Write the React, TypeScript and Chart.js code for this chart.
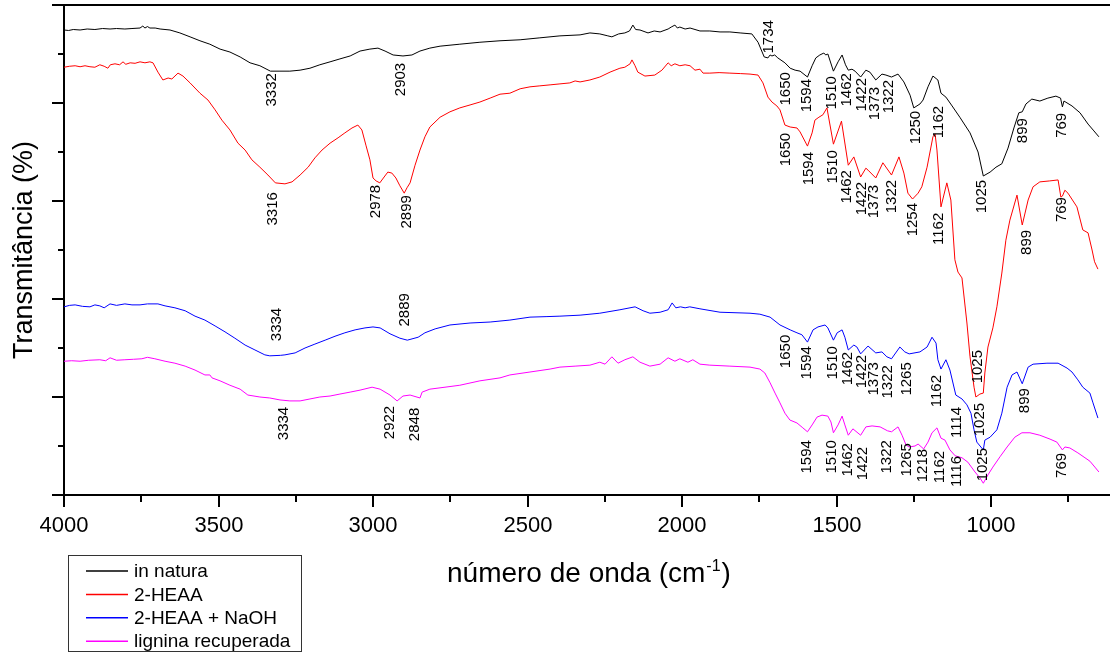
import React, { useEffect, useRef } from 'react';
import { Chart, registerables } from 'chart.js';

Chart.register(...registerables);

const FONT = "'Liberation Sans', Arial, Helvetica, sans-serif";

// Series names and colours
const seriesNames = ['in natura', '2-HEAA', '2-HEAA + NaOH', 'lignina recuperada'];
const seriesColors = ['#000000', '#ff0000', '#0000ff', '#ff00ff'];

// FTIR spectra: [wavenumber (cm-1), transmittance (offset, a.u.)]
const inNatura: [number, number][] = [
  [4000, 94.9], [3985, 94.8], [3970, 95.0], [3948, 94.9], [3925, 95.1], [3900, 95.0], [3875, 95.2],
  [3851, 95.1], [3830, 95.2], [3803, 95.1], [3780, 95.2], [3754, 95.3], [3745, 95.7], [3738, 95.3],
  [3730, 95.6], [3722, 95.3], [3705, 95.3], [3689, 95.1], [3657, 94.9], [3625, 94.3], [3592, 93.5],
  [3560, 92.7], [3528, 92.0], [3495, 91.0], [3463, 90.4], [3430, 89.4], [3398, 88.2], [3366, 87.6],
  [3332, 86.5], [3301, 86.5], [3269, 86.5], [3236, 86.7], [3204, 87.1], [3172, 87.8], [3139, 88.4],
  [3107, 89.0], [3074, 89.6], [3042, 90.6], [3010, 91.0], [2984, 91.2], [2961, 90.6], [2935, 89.8],
  [2903, 89.6], [2874, 89.8], [2848, 90.6], [2816, 91.2], [2783, 91.6], [2719, 92.0], [2654, 92.4],
  [2589, 92.7], [2524, 92.9], [2460, 93.3], [2395, 93.7], [2330, 93.9], [2298, 94.3], [2266, 94.1],
  [2240, 93.7], [2227, 93.5], [2205, 94.1], [2185, 94.3], [2170, 94.7], [2159, 95.9], [2150, 95.0],
  [2136, 94.9], [2110, 94.3], [2090, 94.7], [2071, 94.5], [2045, 95.1], [2035, 95.5], [2023, 95.9],
  [2015, 95.3], [2007, 95.5], [1990, 95.1], [1974, 95.3], [1942, 94.7], [1910, 94.7], [1877, 94.5],
  [1845, 94.5], [1812, 94.3], [1774, 94.1], [1754, 92.4], [1734, 89.4], [1722, 89.2], [1715, 89.8],
  [1709, 89.6], [1700, 89.8], [1690, 89.2], [1667, 88.2], [1650, 87.1], [1634, 86.7], [1618, 86.5],
  [1594, 85.3], [1579, 87.6], [1567, 89.2], [1554, 89.8], [1541, 90.2], [1535, 89.8], [1528, 90.0],
  [1510, 86.5], [1495, 88.4], [1482, 89.8], [1471, 87.8], [1462, 86.7], [1450, 86.9], [1440, 86.5],
  [1422, 85.3], [1405, 86.7], [1392, 86.3], [1373, 84.7], [1353, 85.9], [1340, 85.7], [1322, 85.3],
  [1301, 85.9], [1282, 84.3], [1262, 81.6], [1250, 79.0], [1230, 79.8], [1220, 80.6], [1204, 83.3],
  [1188, 85.5], [1172, 84.7], [1162, 82.0], [1146, 81.2], [1126, 79.4], [1101, 77.1], [1068, 73.9],
  [1042, 70.0], [1025, 65.1], [1003, 65.9], [984, 66.9], [965, 67.6], [945, 70.8], [926, 74.9],
  [910, 78.0], [899, 78.2], [887, 79.8], [868, 80.8], [842, 80.4], [816, 81.0], [790, 81.4],
  [775, 81.0], [769, 79.2], [764, 80.4], [738, 79.4], [712, 78.0], [686, 75.7], [667, 74.3], [651, 73.1],
];

const heaa: [number, number][] = [
  [4000, 87.3], [3982, 87.5], [3964, 87.6], [3948, 87.4], [3932, 87.6], [3916, 87.4], [3900, 87.3],
  [3884, 87.8], [3870, 87.5], [3858, 87.1], [3850, 87.8], [3835, 88.0], [3820, 87.8], [3809, 88.4],
  [3800, 87.9], [3786, 88.2], [3770, 88.1], [3754, 88.4], [3738, 88.2], [3722, 88.4], [3712, 88.2],
  [3696, 86.3], [3680, 84.7], [3663, 85.1], [3651, 84.9], [3631, 86.1], [3615, 85.5], [3592, 84.1],
  [3560, 82.0], [3534, 80.6], [3511, 78.6], [3489, 76.5], [3463, 74.5], [3437, 71.8], [3414, 70.4],
  [3392, 68.4], [3366, 66.9], [3340, 65.3], [3316, 63.7], [3285, 63.5], [3262, 63.9], [3236, 65.3],
  [3210, 66.9], [3188, 68.8], [3165, 70.4], [3139, 71.8], [3113, 72.9], [3091, 73.9], [3068, 74.9],
  [3049, 75.5], [3036, 74.5], [3023, 71.4], [3010, 68.4], [3000, 64.7], [2990, 64.1], [2978, 63.7],
  [2964, 64.9], [2952, 65.9], [2939, 65.7], [2926, 64.7], [2913, 63.1], [2899, 61.6], [2890, 62.7],
  [2880, 63.7], [2864, 67.3], [2848, 70.4], [2832, 73.1], [2816, 75.1], [2783, 77.1], [2751, 78.2],
  [2719, 79.0], [2686, 79.6], [2654, 80.2], [2621, 81.0], [2589, 81.8], [2557, 82.0], [2524, 82.9],
  [2492, 83.3], [2460, 83.5], [2427, 83.7], [2395, 83.9], [2363, 84.1], [2346, 84.5], [2330, 84.3],
  [2298, 84.7], [2266, 85.3], [2233, 86.3], [2217, 86.7], [2201, 87.1], [2185, 87.3], [2168, 88.0],
  [2162, 88.8], [2152, 87.6], [2143, 86.3], [2120, 85.5], [2088, 85.7], [2065, 86.7], [2045, 88.2],
  [2035, 87.6], [2023, 88.0], [2007, 87.6], [1990, 87.8], [1974, 87.6], [1958, 86.7], [1942, 86.9],
  [1932, 86.1], [1910, 86.1], [1880, 86.2], [1845, 86.1], [1810, 86.0], [1780, 85.9], [1754, 85.7],
  [1738, 84.1], [1722, 81.2], [1709, 80.2], [1693, 79.4], [1683, 78.6], [1667, 75.5], [1650, 75.1],
  [1628, 74.9], [1618, 74.1], [1594, 71.2], [1579, 73.9], [1570, 76.5], [1557, 77.1], [1544, 77.6],
  [1531, 79.0], [1510, 71.6], [1484, 76.3], [1462, 67.3], [1444, 69.0], [1422, 64.9], [1405, 66.7],
  [1398, 66.3], [1373, 64.7], [1350, 67.8], [1322, 65.3], [1298, 69.0], [1282, 65.7], [1269, 61.6],
  [1254, 60.4], [1236, 61.6], [1224, 62.9], [1207, 66.9], [1188, 73.1], [1181, 73.7], [1175, 70.4],
  [1162, 58.8], [1143, 63.7], [1130, 60.2], [1117, 48.0], [1107, 45.5], [1094, 44.3], [1078, 35.1],
  [1068, 28.2], [1055, 22.0], [1049, 20.0], [1036, 20.6], [1025, 20.8], [1020, 24.9], [1010, 30.2],
  [994, 34.1], [981, 38.4], [965, 45.3], [952, 52.0], [939, 56.1], [916, 61.2], [899, 55.1],
  [880, 60.2], [864, 62.9], [842, 63.9], [810, 64.1], [783, 64.3], [774, 60.8], [769, 61.0],
  [761, 62.2], [751, 61.6], [722, 58.8], [703, 54.1], [686, 53.5], [673, 50.0], [665, 47.6], [654, 46.1],
];

const heaaNaoh: [number, number][] = [
  [4000, 38.4], [3982, 38.7], [3964, 38.8], [3940, 38.5], [3916, 38.4], [3900, 38.8], [3884, 38.6],
  [3870, 38.2], [3851, 39.0], [3830, 38.7], [3803, 39.0], [3780, 38.8], [3754, 38.8], [3730, 39.0],
  [3696, 39.0], [3673, 38.6], [3641, 38.2], [3608, 37.6], [3576, 36.5], [3544, 35.7], [3511, 34.5],
  [3479, 33.3], [3447, 32.0], [3414, 30.6], [3382, 29.6], [3350, 28.6], [3334, 28.4], [3300, 28.5],
  [3285, 28.6], [3252, 29.0], [3220, 30.0], [3188, 30.8], [3155, 31.6], [3123, 32.4], [3091, 33.1],
  [3058, 33.7], [3026, 34.1], [3000, 34.3], [2977, 34.1], [2945, 32.9], [2913, 32.0], [2889, 31.6],
  [2854, 32.2], [2832, 33.1], [2799, 33.9], [2751, 34.7], [2686, 35.1], [2621, 35.3], [2557, 35.7],
  [2492, 36.3], [2440, 36.4], [2395, 36.5], [2330, 36.7], [2266, 37.1], [2201, 37.8], [2152, 38.4],
  [2126, 37.6], [2104, 37.1], [2071, 37.3], [2045, 37.8], [2032, 39.2], [2020, 38.2], [2005, 38.4],
  [1990, 38.2], [1975, 38.4], [1942, 38.0], [1877, 37.3], [1780, 37.1], [1748, 36.9], [1715, 36.3],
  [1683, 34.7], [1650, 33.7], [1628, 33.1], [1612, 32.7], [1594, 31.2], [1576, 33.7], [1560, 34.3],
  [1537, 34.7], [1528, 34.1], [1510, 31.6], [1498, 33.1], [1482, 33.7], [1473, 32.2], [1462, 29.6],
  [1444, 30.6], [1434, 30.2], [1422, 28.8], [1398, 30.4], [1373, 29.0], [1353, 29.2], [1337, 28.2],
  [1322, 27.8], [1295, 30.2], [1279, 29.2], [1265, 28.8], [1230, 29.2], [1207, 30.2], [1191, 32.2],
  [1178, 31.0], [1172, 27.6], [1162, 25.7], [1146, 27.6], [1133, 25.5], [1114, 20.4], [1094, 19.6],
  [1078, 18.4], [1065, 16.7], [1055, 13.3], [1046, 10.8], [1025, 9.2], [1020, 11.2], [1003, 11.8],
  [981, 13.3], [965, 16.7], [948, 22.0], [932, 24.5], [916, 25.1], [899, 22.7], [880, 26.1],
  [864, 26.7], [819, 26.9], [783, 26.9], [754, 25.9], [738, 25.1], [719, 23.5], [703, 22.0],
  [680, 20.8], [670, 18.8], [654, 15.7],
];

const lignina: [number, number][] = [
  [4000, 27.3], [3975, 27.4], [3948, 27.3], [3920, 27.5], [3884, 27.6], [3865, 27.4], [3851, 28.0],
  [3830, 27.5], [3803, 27.6], [3775, 27.7], [3748, 27.8], [3730, 28.1], [3706, 27.8], [3673, 27.3],
  [3641, 26.9], [3608, 26.3], [3576, 25.5], [3544, 24.5], [3528, 24.5], [3521, 23.9], [3495, 23.3],
  [3463, 22.4], [3430, 21.6], [3405, 20.4], [3366, 20.0], [3334, 19.8], [3301, 19.4], [3269, 19.2],
  [3236, 19.2], [3204, 19.6], [3172, 20.0], [3139, 20.2], [3107, 20.6], [3074, 21.0], [3042, 21.4],
  [3003, 22.0], [2977, 21.6], [2945, 20.4], [2922, 19.2], [2903, 20.2], [2880, 20.4], [2848, 19.8],
  [2841, 21.0], [2816, 21.6], [2767, 22.0], [2719, 22.4], [2654, 23.3], [2589, 23.9], [2557, 24.5],
  [2492, 25.1], [2427, 25.7], [2395, 26.1], [2346, 26.3], [2298, 26.5], [2266, 27.1], [2249, 26.7],
  [2227, 28.2], [2207, 26.9], [2185, 27.6], [2159, 28.2], [2136, 27.1], [2104, 26.3], [2071, 26.7],
  [2045, 28.0], [2023, 27.3], [2007, 27.8], [1981, 27.1], [1965, 27.6], [1942, 26.7], [1910, 26.5],
  [1845, 26.3], [1780, 26.1], [1748, 25.7], [1732, 24.9], [1715, 22.9], [1699, 20.8], [1683, 18.8],
  [1667, 16.7], [1651, 15.3], [1628, 14.7], [1609, 13.7], [1594, 12.9], [1579, 14.3], [1563, 15.9],
  [1547, 16.3], [1528, 16.1], [1518, 14.9], [1510, 12.7], [1495, 14.3], [1482, 16.1], [1473, 14.3],
  [1462, 12.2], [1447, 13.5], [1422, 12.2], [1405, 13.9], [1385, 14.1], [1359, 13.9], [1335, 13.1],
  [1322, 12.9], [1301, 13.9], [1288, 12.2], [1275, 10.2], [1265, 9.8], [1246, 10.0], [1236, 10.4],
  [1218, 9.4], [1204, 10.8], [1191, 12.7], [1175, 13.7], [1162, 11.6], [1149, 11.2], [1133, 9.2],
  [1116, 8.0], [1094, 7.6], [1075, 6.7], [1052, 4.7], [1036, 3.5], [1025, 2.4], [1010, 4.1],
  [994, 5.7], [971, 7.8], [948, 9.8], [923, 11.8], [900, 12.7], [874, 12.7], [842, 12.2],
  [809, 11.4], [787, 10.8], [769, 9.2], [761, 9.8], [745, 9.6], [719, 8.6], [696, 7.6],
  [680, 6.9], [664, 5.7], [651, 4.7],
];

// Band assignments: [label, wavenumber where the label sits, transmittance at the label's upper end]
const inNaturaBands: [string, number, number][] = [
  ['1734', 1719, 96.9], ['3332', 3327, 86.1], ['2903', 2909, 88.2], ['1650', 1664, 86.3],
  ['1594', 1596, 84.9], ['1510', 1515, 85.5], ['1462', 1466, 86.1], ['1422', 1418, 85.1],
  ['1373', 1376, 83.3], ['1322', 1330, 84.7], ['1250', 1243, 78.4], ['1162', 1169, 79.4],
  ['1025', 1029, 64.3], ['899', 897, 76.9], ['769', 770, 78.0],
];

const heaaBands: [string, number, number][] = [
  ['3316', 3324, 61.8], ['2978', 2990, 63.3], ['2899', 2890, 61.2], ['1650', 1664, 73.9],
  ['1594', 1589, 70.0], ['1510', 1512, 70.4], ['1462', 1466, 66.3], ['1422', 1418, 63.9],
  ['1373', 1379, 63.3], ['1322', 1321, 64.3], ['1254', 1253, 59.6], ['1162', 1169, 57.6],
  ['1025', 1042, 29.6], ['899', 884, 54.1], ['769', 770, 60.8],
];

const heaaNaohBands: [string, number, number][] = [
  ['3334', 3311, 38.2], ['2889', 2897, 41.2], ['1650', 1664, 32.7], ['1594', 1596, 30.4],
  ['1510', 1512, 30.4], ['1462', 1463, 29.2], ['1422', 1418, 28.6], ['1373', 1379, 27.1],
  ['1322', 1334, 26.5], ['1265', 1272, 27.1], ['1162', 1175, 24.5], ['1114', 1110, 18.0],
  ['1025', 1036, 18.8], ['899', 890, 21.8],
];

const ligninaBands: [string, number, number][] = [
  ['3334', 3288, 18.0], ['2922', 2945, 18.2], ['2848', 2864, 17.8], ['1594', 1596, 11.2],
  ['1510', 1515, 11.2], ['1462', 1463, 10.6], ['1422', 1414, 9.8], ['1322', 1337, 11.2],
  ['1265', 1272, 10.6], ['1218', 1220, 9.4], ['1162', 1165, 9.0], ['1116', 1110, 8.0],
  ['1025', 1026, 9.6], ['769', 770, 8.6],
];

// Axis ticks
const xTickValues = [4000, 3750, 3500, 3250, 3000, 2750, 2500, 2250, 2000, 1750, 1500, 1250, 1000, 750];
const xMajorStep = 500;
const yTickValues = [0, 10, 20, 30, 40, 50, 60, 70, 80, 90, 100];
const yMajorStep = 20;

const xTitle = 'número de onda (cm';
const xTitleSup = '-1';
const xTitleEnd = ')';
const yTitle = 'Transmitância (%)';

const App: React.FC = () => {
  const canvasRef = useRef<HTMLCanvasElement>(null);

  useEffect(() => {
    const canvas = canvasRef.current;
    if (!canvas) return;

    const spectra = [inNatura, heaa, heaaNaoh, lignina];
    const bands = [inNaturaBands, heaaBands, heaaNaohBands, ligninaBands];

    const decorations = {
      id: 'ftirDecorations',
      afterDraw(chart: any) {
        const { ctx, chartArea } = chart;
        const xs = chart.scales.x;
        const ys = chart.scales.y;
        ctx.save();

        // frame line along the top of the plot
        ctx.strokeStyle = '#000';
        ctx.lineWidth = 2;
        ctx.beginPath();
        ctx.moveTo(chartArea.left - 1, chartArea.top);
        ctx.lineTo(chartArea.right, chartArea.top);
        ctx.stroke();

        // outward tick marks and x tick labels
        ctx.fillStyle = '#000';
        ctx.font = `22px ${FONT}`;
        ctx.textAlign = 'center';
        ctx.textBaseline = 'middle';
        xTickValues.forEach((v) => {
          const px = Math.round(xs.getPixelForValue(v));
          const major = v % xMajorStep === 0;
          ctx.beginPath();
          ctx.moveTo(px, chartArea.bottom);
          ctx.lineTo(px, chartArea.bottom + (major ? 12 : 7));
          ctx.stroke();
          if (major) ctx.fillText(String(v), px, chartArea.bottom + 31);
        });
        yTickValues.forEach((v) => {
          const py = Math.round(ys.getPixelForValue(v));
          const len = v % yMajorStep === 0 ? 12 : 6;
          ctx.beginPath();
          ctx.moveTo(chartArea.left, py);
          ctx.lineTo(chartArea.left - len, py);
          ctx.stroke();
        });

        // band labels, rotated to read upward
        ctx.font = `15px ${FONT}`;
        ctx.textAlign = 'right';
        ctx.textBaseline = 'middle';
        bands.forEach((list) => {
          list.forEach(([text, wn, t]) => {
            const px = xs.getPixelForValue(wn);
            const py = ys.getPixelForValue(t);
            ctx.save();
            ctx.translate(px, py);
            ctx.rotate(-Math.PI / 2);
            ctx.fillText(text, 0, 0);
            ctx.restore();
          });
        });

        // y axis title
        ctx.save();
        ctx.font = `27px ${FONT}`;
        ctx.textAlign = 'center';
        ctx.textBaseline = 'alphabetic';
        ctx.translate(32, (chartArea.top + chartArea.bottom) / 2);
        ctx.rotate(-Math.PI / 2);
        ctx.fillText(yTitle, 0, 0);
        ctx.restore();

        // x axis title with superscript
        ctx.textAlign = 'left';
        ctx.textBaseline = 'alphabetic';
        ctx.font = `28px ${FONT}`;
        let tx = 447;
        const base = 582;
        ctx.fillText(xTitle, tx, base);
        tx += ctx.measureText(xTitle).width + 1;
        ctx.font = `16px ${FONT}`;
        ctx.fillText(xTitleSup, tx, base - 11);
        tx += ctx.measureText(xTitleSup).width + 1;
        ctx.font = `28px ${FONT}`;
        ctx.fillText(xTitleEnd, tx, base);

        // legend box
        ctx.lineWidth = 1;
        ctx.strokeStyle = '#333';
        ctx.strokeRect(68.5, 555.5, 233, 96);
        ctx.font = `19px ${FONT}`;
        ctx.textBaseline = 'middle';
        chart.data.datasets.forEach((ds: any, i: number) => {
          const ly = 571 + i * 23.4;
          ctx.strokeStyle = ds.borderColor;
          ctx.lineWidth = 1.5;
          ctx.beginPath();
          ctx.moveTo(86, ly);
          ctx.lineTo(128, ly);
          ctx.stroke();
          ctx.fillStyle = '#000';
          ctx.fillText(ds.label, 134, ly + 1);
        });

        ctx.restore();
      },
    };

    const chart = new Chart(canvas, {
      type: 'line',
      data: {
        datasets: spectra.map((s, i) => ({
          label: seriesNames[i],
          data: s.map(([x, y]) => ({ x, y })),
          borderColor: seriesColors[i],
          backgroundColor: seriesColors[i],
          borderWidth: 1,
          pointRadius: 0,
          tension: 0,
          fill: false,
        })),
      },
      options: {
        responsive: false,
        animation: false,
        devicePixelRatio: 1,
        layout: { padding: { left: 64, top: 5, right: 0, bottom: 159 } },
        plugins: {
          legend: { display: false },
          tooltip: { enabled: false },
        },
        scales: {
          x: {
            type: 'linear',
            reverse: true,
            min: 615,
            max: 4000,
            grid: { display: false, drawTicks: false },
            border: { display: true, color: '#000', width: 2 },
            ticks: { display: false },
          },
          y: {
            type: 'linear',
            min: 0,
            max: 100,
            grid: { display: false, drawTicks: false },
            border: { display: true, color: '#000', width: 2 },
            ticks: { display: false },
          },
        },
      },
      plugins: [decorations],
    } as any);

    return () => chart.destroy();
  }, []);

  return (
    <div style={{ position: 'absolute', left: 0, top: 0, width: 1110, height: 654, background: '#fff' }}>
      <canvas ref={canvasRef} width={1110} height={654} style={{ display: 'block' }} />
    </div>
  );
};

export default App;
